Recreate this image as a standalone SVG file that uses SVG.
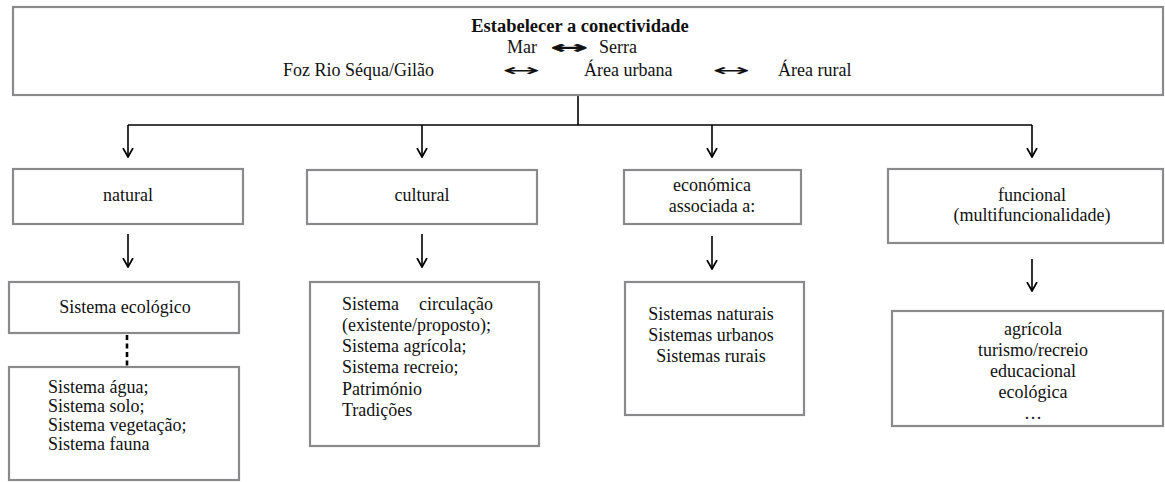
<svg xmlns="http://www.w3.org/2000/svg" width="1165" height="482" viewBox="0 0 1165 482">
<style>
.box{fill:#fff;stroke:#8a8a8c;stroke-width:2.2}
.t{font-family:"Liberation Serif","Times New Roman",serif;font-size:18px;fill:#111}
.c{text-anchor:middle}
.b{font-weight:bold;font-size:18.5px}
.ln{fill:none;stroke:#000;stroke-width:1.6}
.arr{font-family:"DejaVu Sans",sans-serif;font-size:17px;fill:#111}
.arrb{stroke:#111;stroke-width:0.35}
</style>
<defs>
<marker id="ah" viewBox="0 0 10 12" refX="9.5" refY="6" markerWidth="10" markerHeight="12" markerUnits="userSpaceOnUse" orient="auto">
<path d="M0.5,1 L9.5,6 L0.5,11" fill="none" stroke="#000" stroke-width="1.7"/>
</marker>
</defs>
<rect width="1165" height="482" fill="#fff"/>
<g id="connectors">
<path class="ln" d="M578,95 V125"/>
<path class="ln" d="M128,125 H1032"/>
<path class="ln" d="M128,125 V157" marker-end="url(#ah)"/>
<path class="ln" d="M422,125 V157" marker-end="url(#ah)"/>
<path class="ln" d="M712,125 V157" marker-end="url(#ah)"/>
<path class="ln" d="M1032,125 V157" marker-end="url(#ah)"/>
<path class="ln" d="M128,234 V267" marker-end="url(#ah)"/>
<path class="ln" d="M422,234 V267" marker-end="url(#ah)"/>
<path class="ln" d="M712,236 V269" marker-end="url(#ah)"/>
<path class="ln" d="M1032,259 V291" marker-end="url(#ah)"/>
<path d="M127,335 V366" fill="none" stroke="#000" stroke-width="2.6" stroke-dasharray="5,3.5"/>
</g>
<g id="top">
<rect class="box" x="13" y="7" width="1150" height="88"/>
<text class="t c b" x="580" y="32">Estabelecer a conectividade</text>
<text class="t" x="507" y="53">Mar</text>
<text class="arr arrb" x="550" y="53" textLength="38" lengthAdjust="spacingAndGlyphs" font-weight="bold">↔</text>
<text class="t" x="599" y="53">Serra</text>
<text class="t" x="283" y="76">Foz Rio Séqua/Gilão</text>
<text class="arr" x="502" y="76" textLength="38" lengthAdjust="spacingAndGlyphs">↔</text>
<text class="t" x="584" y="76">Área urbana</text>
<text class="arr" x="712" y="76" textLength="38" lengthAdjust="spacingAndGlyphs">↔</text>
<text class="t" x="778" y="76">Área rural</text>
</g>
<g id="natural">
<rect class="box" x="13" y="169" width="230" height="55"/>
<text class="t c" x="128" y="201">natural</text>
</g>
<g id="cultural">
<rect class="box" x="307" y="170" width="230" height="54"/>
<text class="t c" x="422" y="201">cultural</text>
</g>
<g id="economica">
<rect class="box" x="624" y="170" width="177" height="54"/>
<text class="t c" x="712" y="191">económica</text>
<text class="t c" x="712" y="212">associada a:</text>
</g>
<g id="funcional">
<rect class="box" x="888" y="169" width="275" height="74"/>
<text class="t c" x="1032" y="201">funcional</text>
<text class="t c" x="1032" y="221">(multifuncionalidade)</text>
</g>
<g id="sistema-ecologico">
<rect class="box" x="9" y="282" width="230" height="51"/>
<text class="t c" x="125" y="313">Sistema ecológico</text>
</g>
<g id="sistemas-naturais">
<rect class="box" x="9" y="367" width="230" height="113"/>
<text class="t" x="48" y="393">Sistema água;</text>
<text class="t" x="48" y="412">Sistema solo;</text>
<text class="t" x="48" y="431">Sistema vegetação;</text>
<text class="t" x="48" y="450">Sistema fauna</text>
</g>
<g id="sistemas-culturais">
<rect class="box" x="310" y="282" width="229" height="164"/>
<text class="t" x="342" y="310">Sistema<tspan x="419">circulação</tspan></text>
<text class="t" x="342" y="331">(existente/proposto);</text>
<text class="t" x="342" y="352">Sistema agrícola;</text>
<text class="t" x="342" y="373">Sistema recreio;</text>
<text class="t" x="342" y="395">Património</text>
<text class="t" x="342" y="416">Tradições</text>
</g>
<g id="sistemas-economicos">
<rect class="box" x="625" y="282" width="179" height="133"/>
<text class="t c" x="711" y="320">Sistemas naturais</text>
<text class="t c" x="711" y="341">Sistemas urbanos</text>
<text class="t c" x="711" y="362">Sistemas rurais</text>
</g>
<g id="funcoes">
<rect class="box" x="892" y="311" width="271" height="115"/>
<text class="t c" x="1033" y="335">agrícola</text>
<text class="t c" x="1033" y="356">turismo/recreio</text>
<text class="t c" x="1033" y="377">educacional</text>
<text class="t c" x="1033" y="398">ecológica</text>
<text class="t c" x="1033" y="419">…</text>
</g>
</svg>
